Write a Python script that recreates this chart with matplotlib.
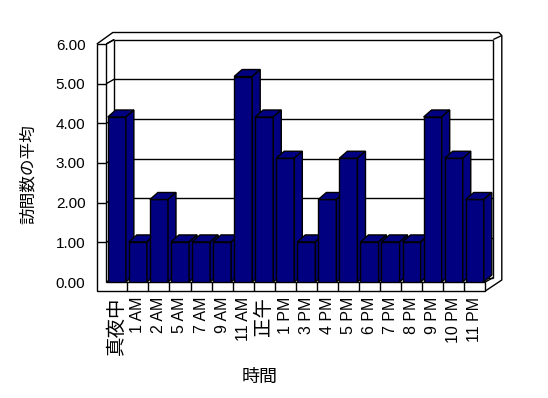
import matplotlib
matplotlib.use("Agg")
import matplotlib.pyplot as plt
from matplotlib.patches import Polygon

plt.rcParams['font.family'] = ['Liberation Sans', 'Noto Sans CJK JP']

# データ
hours = ['真夜中', '1 AM', '2 AM', '5 AM', '7 AM', '9 AM', '11 AM', '正午',
         '1 PM', '3 PM', '4 PM', '5 PM', '6 PM', '7 PM', '8 PM', '9 PM',
         '10 PM', '11 PM']
visits = [4.16, 1.01, 2.08, 1.01, 1.01, 1.01, 5.18, 4.16,
          3.12, 1.01, 2.08, 3.12, 1.01, 1.01, 1.01, 4.16,
          3.12, 2.08]
yticks = [0, 1, 2, 3, 4, 5, 6]

W, H = 548, 398
fig = plt.figure(figsize=(W / 100, H / 100), dpi=100)
# front plane of the 3d box (pixels: x 106..485, y 44..282)
ax = fig.add_axes([106.3 / W, 116 / H, 379 / W, 238 / H])
n = len(hours)
ax.set_xlim(-0.5, n - 0.5)
ax.set_ylim(0, 6)
for s in ax.spines.values():
    s.set_visible(False)

# pixel -> data helpers
ux = n / 379.0
uy = 6 / 238.0
def px(dx):
    return dx * ux
def py(dy):
    return dy * uy

x0, x1 = -0.5, n - 0.5
navy = '#000080'
lw = 1.0
kw = dict(color='black', lw=lw, clip_on=False, solid_capstyle='butt')

# back wall (inner) and gridlines
bdx, bdy = px(8), py(4.5)
for v in yticks:
    ax.plot([x0 + bdx, x1 + bdx], [v + bdy, v + bdy], zorder=1, **kw)
    ax.plot([x0, x0 + bdx], [v, v + bdy], zorder=1, **kw)
ax.plot([x0 + bdx, x0 + bdx], [bdy, 6 + bdy], zorder=1, **kw)
ax.plot([x1 + bdx, x1 + bdx], [bdy, 6 + bdy], zorder=1, **kw)

# left wall front face + floor front face
wl = x0 - px(9.5)
fb = -py(9)
ax.add_patch(Polygon([(wl, fb), (x1, fb), (x1, 0), (x0, 0), (x0, 6), (wl, 6)],
                     closed=True, fc='white', ec='black', lw=lw, clip_on=False, zorder=2))
for v in yticks[1:-1]:
    ax.plot([wl, x0], [v, v], zorder=2, **kw)
for i in range(1, n):
    ax.plot([x0 + i, x0 + i], [fb, 0], zorder=2, **kw)

# outer edges of the box
odx, ody = px(16.5), py(11.5)
ax.plot([wl, wl + odx - px(0.5), x1 + odx - px(3), x1 + odx, x1 + odx, x1],
        [6, 6 + ody, 6 + ody, 6 + ody - py(3), fb + ody - py(0.5), fb], zorder=1, **kw)
ax.plot([x0, x0 + bdx], [6, 6 + bdy], zorder=1, **kw)
ax.plot([x1 + bdx, x1 + odx], [6 + bdy, 6 + ody - py(3)], zorder=1, **kw)
ax.plot([x1, x1 + bdx], [0, bdy], zorder=1, **kw)

# 3d bars
w = 0.86
ddx, ddy = px(8), py(7)
bars = ax.bar(range(n), visits, width=w, color=navy, edgecolor='black', linewidth=lw)
for i, (b, v) in enumerate(zip(bars, visits)):
    z = 10 + i
    b.set_zorder(z)
    l, r = i - w / 2, i + w / 2
    top = Polygon([(l, v), (r, v), (r + ddx, v + ddy), (l + ddx, v + ddy)],
                  closed=True, fc=navy, ec='black', lw=lw, zorder=z, clip_on=False)
    side = Polygon([(r, 0), (r + ddx, ddy), (r + ddx, v + ddy), (r, v)],
                   closed=True, fc=navy, ec='black', lw=lw, zorder=z, clip_on=False)
    ax.add_patch(top)
    ax.add_patch(side)

ax.set_yticks(yticks, ['%.2f' % v for v in yticks])
ax.set_xticks(range(n), hours, rotation=90, va='top', ha='center')
ax.tick_params(axis='y', length=0, pad=15, labelsize=11)
ax.tick_params(axis='x', length=0, pad=10.5, labelsize=11.5)
for t in ax.get_xticklabels():
    if not t.get_text().endswith('M'):
        t.set_fontsize(14)

fig.text(28.5 / W, 1 - 174 / H, '訪問数の平均', rotation=90, ha='center', va='center', fontsize=12)
fig.text(260 / W, 1 - 377 / H, '時間', ha='center', va='center', fontsize=13)

fig.savefig('out.png', dpi=100)
